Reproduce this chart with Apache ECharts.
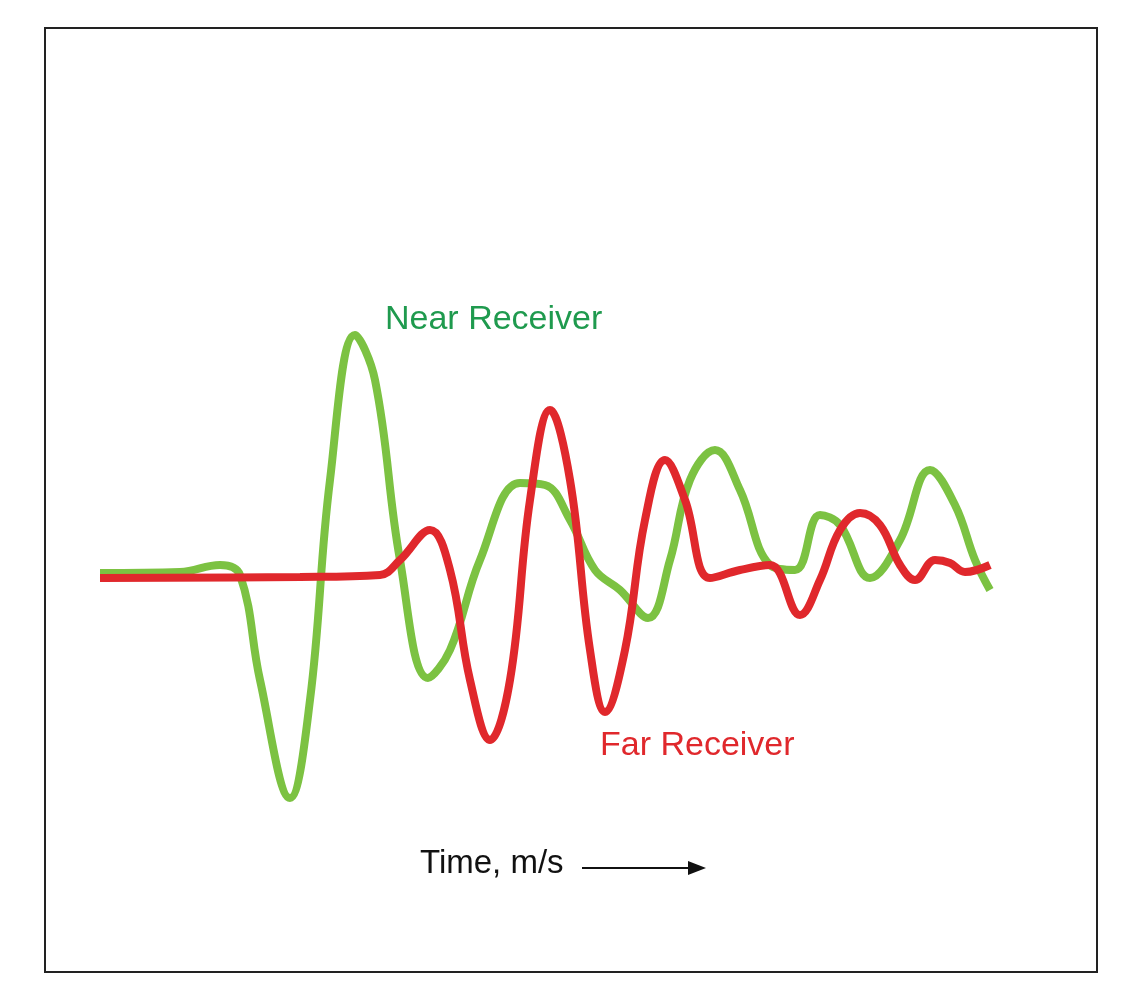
<!DOCTYPE html>
<html>
<head>
<meta charset="utf-8">
<script src="https://cdn.jsdelivr.net/npm/echarts@6/dist/echarts.min.js"></script>
<style>html,body{margin:0;padding:0;background:#fff}#chart{width:1132px;height:1008px}</style>
</head>
<body>
<div id="chart"></div>
<script>
// time (arbitrary units) and amplitude for each trace
var nearTime = [100,180,220,240,260,290,310,330,355,375,400,428,450,480,520,545,570,595,620,648,670,690,715,740,770,795,820,840,870,900,930,955,975,990];
var nearAmp  = [2,3,10,0,-105,-223,-125,95,240,195,15,-103,-75,15,92,90,55,5,-15,-43,15,95,125,85,10,5,60,50,-3,35,105,70,15,-15];
var farTime  = [100,300,380,400,430,450,470,490,510,530,550,570,590,605,625,645,665,685,710,740,770,800,820,840,860,880,900,915,935,950,965,990];
var farAmp   = [-3,-2,0,15,45,5,-105,-165,-105,75,165,95,-75,-137,-75,55,115,75,-3,5,10,-40,-5,45,62,50,10,-5,15,12,3,10];

function pairs(t, a) {
    return t.map(function (v, i) { return [v, a[i]]; });
}

var chart = echarts.init(document.getElementById('chart'));
chart.setOption({
    animation: false,
    grid: { left: 100, right: 142, top: 287, bottom: 145 },
    xAxis: { type: 'value', min: 100, max: 990, show: false },
    yAxis: { type: 'value', min: -288, max: 288, show: false },
    series: [
        {
            name: 'Near Receiver', type: 'line', smooth: 0.4, symbol: 'none',
            lineStyle: { color: '#7cc242', width: 8 },
            data: pairs(nearTime, nearAmp)
        },
        {
            name: 'Far Receiver', type: 'line', smooth: 0.4, symbol: 'none',
            lineStyle: { color: '#e0282c', width: 8 },
            data: pairs(farTime, farAmp)
        }
    ],
    graphic: [
        { type: 'rect', shape: { x: 45, y: 28, width: 1052, height: 944 },
          style: { fill: 'none', stroke: '#222', lineWidth: 2 } },
        { type: 'text', left: 385, top: 303,
          style: { text: 'Near Receiver', fill: '#1f9a4e', font: '34px Arial, "Liberation Sans"' } },
        { type: 'text', left: 600, top: 729,
          style: { text: 'Far Receiver', fill: '#e0282c', font: '34px Arial, "Liberation Sans"' } },
        { type: 'text', left: 420, top: 847,
          style: { text: 'Time, m/s', fill: '#111', font: '33px Arial, "Liberation Sans"' } },
        { type: 'line', shape: { x1: 582, y1: 868, x2: 692, y2: 868 },
          style: { stroke: '#111', lineWidth: 2 } },
        { type: 'polygon', shape: { points: [[706, 868], [688, 861], [688, 875]] },
          style: { fill: '#111' } }
    ]
});
</script>
</body>
</html>
